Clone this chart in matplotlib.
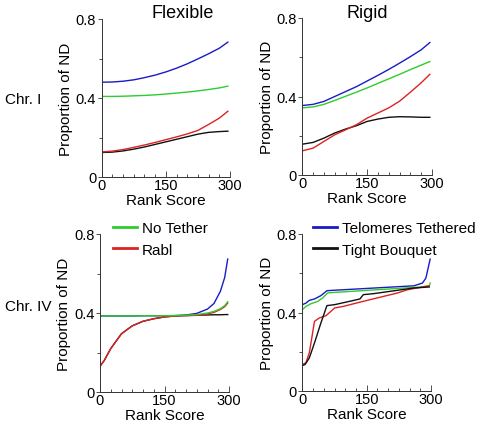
import matplotlib
matplotlib.use("Agg")
import matplotlib.pyplot as plt
from matplotlib.ticker import MultipleLocator

plt.rcParams['font.family'] = ['Liberation Sans', 'DejaVu Sans']

C_BLUE = "#1a1ac8"
C_GREEN = "#2ecc2e"
C_RED = "#dd2222"
C_BLACK = "#111111"

# rank score grid for the smooth curves
rank_s = [0, 25, 50, 75, 100, 125, 150, 175, 200, 225, 250, 275, 295]

# Chr. I, flexible
tl_blue = [0.480, 0.481, 0.485, 0.492, 0.503, 0.516, 0.532, 0.551, 0.573, 0.598, 0.624, 0.652, 0.683]
tl_green = [0.408, 0.408, 0.409, 0.411, 0.413, 0.416, 0.420, 0.425, 0.430, 0.436, 0.443, 0.451, 0.460]
tl_red = [0.127, 0.131, 0.139, 0.150, 0.162, 0.175, 0.189, 0.203, 0.218, 0.236, 0.266, 0.298, 0.333]
tl_black = [0.124, 0.126, 0.132, 0.141, 0.152, 0.165, 0.178, 0.191, 0.204, 0.217, 0.226, 0.230, 0.232]

# Chr. I, rigid
tr_blue = [0.354, 0.360, 0.375, 0.400, 0.425, 0.450, 0.479, 0.508, 0.538, 0.570, 0.603, 0.638, 0.675]
tr_green = [0.342, 0.347, 0.360, 0.380, 0.401, 0.422, 0.444, 0.467, 0.490, 0.513, 0.537, 0.560, 0.578]
tr_red = [0.123, 0.137, 0.171, 0.205, 0.230, 0.256, 0.290, 0.316, 0.342, 0.376, 0.422, 0.470, 0.513]
tr_black = [0.157, 0.166, 0.188, 0.214, 0.234, 0.251, 0.273, 0.285, 0.294, 0.297, 0.296, 0.294, 0.294]

# Chr. IV, flexible
rank_bl = [0, 10, 25, 50, 75, 100, 125, 150, 175, 200, 225, 250, 265, 280, 290, 297]
bl_blue = [0.385, 0.385, 0.385, 0.385, 0.385, 0.386, 0.386, 0.386, 0.387, 0.390, 0.398, 0.420, 0.448, 0.510, 0.580, 0.673]
bl_green = [0.385, 0.385, 0.385, 0.385, 0.385, 0.386, 0.386, 0.386, 0.387, 0.389, 0.392, 0.400, 0.408, 0.422, 0.437, 0.457]
bl_red = [0.130, 0.160, 0.220, 0.295, 0.335, 0.358, 0.371, 0.380, 0.385, 0.387, 0.388, 0.395, 0.403, 0.418, 0.432, 0.450]
bl_black = [0.130, 0.160, 0.220, 0.295, 0.335, 0.358, 0.371, 0.380, 0.385, 0.387, 0.389, 0.390, 0.391, 0.391, 0.392, 0.392]

# Chr. IV, rigid (jagged curves, own rank grids)
br_blue_x = [0, 8, 16, 28, 43, 57, 71, 260, 280, 288, 298]
br_blue_y = [0.440, 0.448, 0.462, 0.469, 0.486, 0.511, 0.513, 0.536, 0.550, 0.575, 0.672]
br_green_x = [0, 8, 20, 36, 47, 59, 79, 276, 296, 298]
br_green_y = [0.415, 0.431, 0.445, 0.457, 0.474, 0.500, 0.503, 0.530, 0.536, 0.550]
br_red_x = [0, 8, 16, 28, 39, 55, 75, 95, 142, 221, 245, 268, 296]
br_red_y = [0.135, 0.144, 0.195, 0.355, 0.372, 0.384, 0.423, 0.431, 0.457, 0.499, 0.516, 0.525, 0.536]
br_black_x = [0, 6, 16, 28, 43, 57, 75, 110, 134, 142, 166, 205, 260, 296]
br_black_y = [0.130, 0.135, 0.169, 0.245, 0.347, 0.435, 0.440, 0.457, 0.469, 0.491, 0.496, 0.508, 0.525, 0.530]

legend_labels = ["No Tether", "Rabl", "Telomeres Tethered", "Tight Bouquet"]

W, H = 481, 427
fig = plt.figure(figsize=(W / 100, H / 100), dpi=100)


def px_axes(x0, x1, ytop, ybot):
    return fig.add_axes([x0 / W, 1 - ybot / H, (x1 - x0) / W, (ybot - ytop) / H])


def style(ax):
    ax.set_xlim(0, 300)
    ax.set_ylim(0, 0.8)
    ax.spines['top'].set_visible(False)
    ax.spines['right'].set_visible(False)
    for s in ['left', 'bottom']:
        ax.spines[s].set_linewidth(0.7)
        ax.spines[s].set_color("#333333")
    ax.set_xticks([0, 150, 300])
    ax.set_xticklabels(["0", "150", "300"])
    ax.xaxis.set_minor_locator(MultipleLocator(25))
    ax.set_yticks([0, 0.4, 0.8])
    ax.set_yticklabels(["0", "0.4", "0.8"])
    ax.yaxis.set_minor_locator(MultipleLocator(0.2))
    ax.tick_params(axis='x', which='both', direction='in', labelsize=10.5, pad=1, width=0.6, color="#333333")
    ax.tick_params(axis='x', which='major', length=4)
    ax.tick_params(axis='x', which='minor', length=2.5)
    ax.tick_params(axis='y', which='both', direction='out', labelsize=10.5, pad=1, width=0.6, color="#333333")
    ax.tick_params(axis='y', which='major', length=3)
    ax.tick_params(axis='y', which='minor', length=2)
    ax.set_xlabel("Rank Score", fontsize=11, labelpad=0.5)
    ax.set_ylabel("Proportion of ND", fontsize=11, labelpad=2)


lw = 1.0
ax1 = px_axes(101.7, 230, 20, 178)
ax1.plot(rank_s, tl_black, color=C_BLACK, lw=lw)
ax1.plot(rank_s, tl_red, color=C_RED, lw=lw)
ax1.plot(rank_s, tl_green, color=C_GREEN, lw=lw)
ax1.plot(rank_s, tl_blue, color=C_BLUE, lw=lw)
style(ax1)

ax2 = px_axes(302.3, 432, 19, 176)
ax2.plot(rank_s, tr_black, color=C_BLACK, lw=lw)
ax2.plot(rank_s, tr_red, color=C_RED, lw=lw)
ax2.plot(rank_s, tr_green, color=C_GREEN, lw=lw)
ax2.plot(rank_s, tr_blue, color=C_BLUE, lw=lw)
style(ax2)

ax3 = px_axes(100, 229, 235, 393)
ax3.plot(rank_bl, bl_blue, color=C_BLUE, lw=lw)
ax3.plot(rank_bl, bl_black, color=C_BLACK, lw=lw)
ax3.plot(rank_bl, bl_red, color=C_RED, lw=lw)
ax3.plot(rank_bl, bl_green, color=C_GREEN, lw=lw)
style(ax3)

ax4 = px_axes(302.5, 431, 235, 392)
ax4.plot(br_blue_x, br_blue_y, color=C_BLUE, lw=lw)
ax4.plot(br_green_x, br_green_y, color=C_GREEN, lw=lw)
ax4.plot(br_red_x, br_red_y, color=C_RED, lw=lw)
ax4.plot(br_black_x, br_black_y, color=C_BLACK, lw=lw)
style(ax4)

leg_kw = dict(frameon=False, fontsize=11, handlelength=1.55, handletextpad=0.35,
              labelspacing=0.5, borderpad=0, borderaxespad=0, loc='upper left')
leg1 = [plt.Line2D([], [], color=C_GREEN, lw=2), plt.Line2D([], [], color=C_RED, lw=2)]
fig.legend(leg1, legend_labels[:2], bbox_to_anchor=(113 / W, 1 - 222 / H), **leg_kw)
leg2 = [plt.Line2D([], [], color=C_BLUE, lw=2), plt.Line2D([], [], color=C_BLACK, lw=2)]
fig.legend(leg2, legend_labels[2:], bbox_to_anchor=(313 / W, 1 - 222 / H), **leg_kw)

fig.text(183 / W, 1 - 13 / H, "Flexible", fontsize=13, ha='center', va='center')
fig.text(367 / W, 1 - 13 / H, "Rigid", fontsize=13, ha='center', va='center')
fig.text(5 / W, 1 - 100 / H, "Chr. I", fontsize=11, ha='left', va='center')
fig.text(5 / W, 1 - 307 / H, "Chr. IV", fontsize=11, ha='left', va='center')

fig.savefig("out.png", dpi=100)
